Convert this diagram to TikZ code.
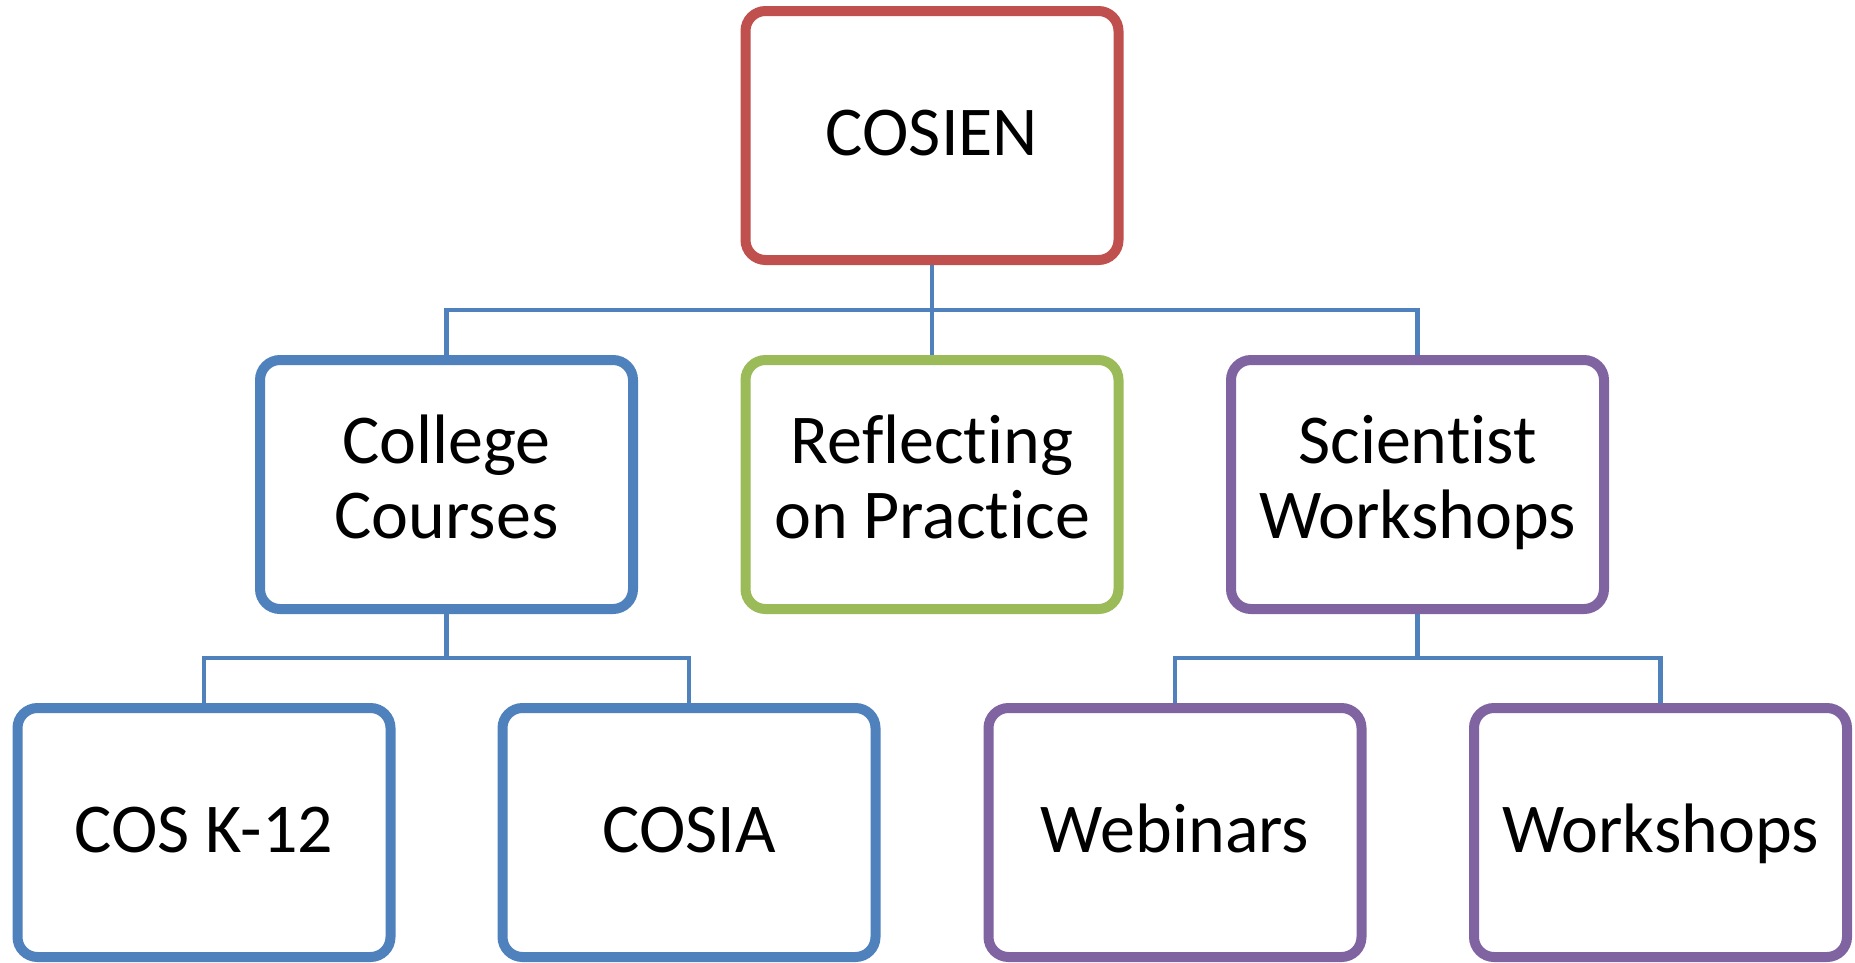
\documentclass[tikz,border=0pt]{standalone}
\usepackage{fontspec}
\setmainfont{Carlito}[Ligatures=CommonOff]
\usepackage{xcolor}
\usetikzlibrary{positioning,backgrounds}

\definecolor{boxred}{HTML}{C0504D}
\definecolor{boxblue}{HTML}{4F81BD}
\definecolor{boxgreen}{HTML}{9BBB59}
\definecolor{boxpurple}{HTML}{8064A2}
\definecolor{linkblue}{HTML}{4F81BD}

\newcommand{\boxstrut}{\vrule width 0pt height 56pt depth 16pt}

\tikzset{
  box/.style={draw, line width=10pt, rounded corners=20pt, fill=white,
    minimum width=373pt, minimum height=249pt, align=center,
    font=\fontsize{70}{75}\selectfont,
    execute at begin node=\boxstrut, execute at end node=\boxstrut},
  link/.style={draw=linkblue, line width=4.5pt}
}

\begin{document}
\begin{tikzpicture}[x=1pt, y=-1pt]
    \useasboundingbox (0,0) rectangle (1855,962);

    % Top
    \node[box, draw=boxred] (cosien) at (932, 135.5) {COSIEN};

    % Second row
    \node[box, draw=boxblue] (college) at (446.5, 484.5) {College\\Courses};
    \node[box, draw=boxgreen] (reflect) at (932, 484.5) {Reflecting\\on Practice};
    \node[box, draw=boxpurple] (scientist) at (1417.5, 484.5) {Scientist\\Workshops};

    % Third row
    \node[box, draw=boxblue] (cosk) at (204, 832.5) {COS K-12};
    \node[box, draw=boxblue] (cosia) at (689, 832.5) {COSIA};
    \node[box, draw=boxpurple] (webinars) at (1175, 832.5) {Webinars};
    \node[box, draw=boxpurple] (workshops) at (1660.5, 832.5) {Workshops};

    % Connectors
    \coordinate (top) at (932, 310);
    \coordinate (left) at (446.5, 658);
    \coordinate (right) at (1417.5, 658);
    \begin{scope}[on background layer]
        \draw[link] (cosien.south) -- (reflect.north);
        \draw[link] (college.north) |- (top) -| (scientist.north);
        \draw[link] (college.south) -- (left);
        \draw[link] (cosk.north) |- (left) -| (cosia.north);
        \draw[link] (scientist.south) -- (right);
        \draw[link] (webinars.north) |- (right) -| (workshops.north);
    \end{scope}
\end{tikzpicture}
\end{document}
